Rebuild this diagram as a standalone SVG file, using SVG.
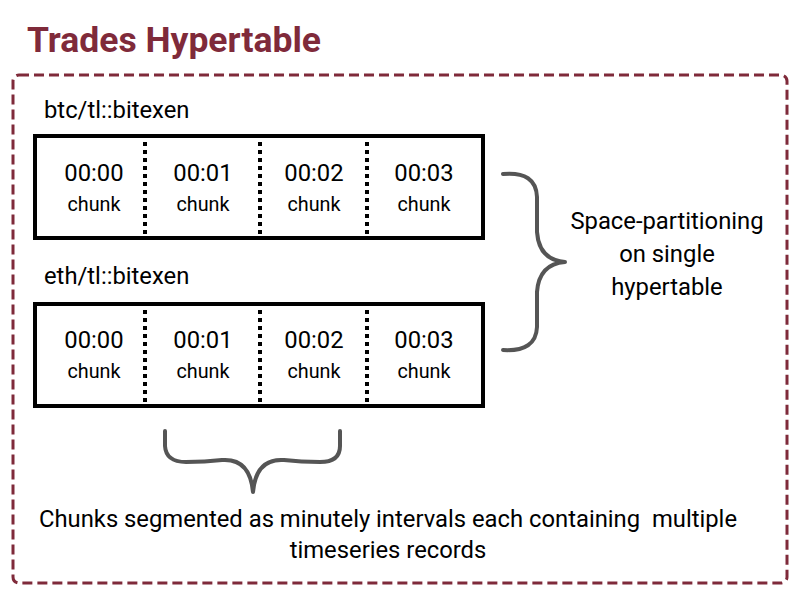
<svg xmlns="http://www.w3.org/2000/svg" width="800" height="600" viewBox="0 0 800 600">
<style>
text{font-family:Roboto,"Liberation Sans",sans-serif;fill:#000}
.title{font-size:35.5px;font-weight:bold;fill:#7f2a3a}
.lbl{font-size:23.8px}
.t{font-size:23.8px;text-anchor:middle}
.c{font-size:19.8px;text-anchor:middle}
.note{font-size:23.8px;text-anchor:middle}
.box{fill:#fff;stroke:#000;stroke-width:4}
.div{stroke:#000;stroke-width:4;stroke-dasharray:4 4}
.brace{fill:none;stroke:#555;stroke-width:4;stroke-linecap:round;stroke-linejoin:round}
</style>
<rect width="800" height="600" fill="#fff"/>
<text class="title" x="27" y="52">Trades Hypertable</text>
<rect id="frame" x="13" y="75" width="774" height="508" rx="6" fill="none" stroke="#7f2a3a" stroke-width="3" stroke-dasharray="10 5"/>
<g id="btc">
<text class="lbl" x="44" y="118">btc/tl::bitexen</text>
<rect class="box" x="35" y="136" width="448" height="102"/>
<line class="div" x1="145" y1="142" x2="145" y2="236"/>
<line class="div" x1="260" y1="142" x2="260" y2="236"/>
<line class="div" x1="367" y1="142" x2="367" y2="236"/>
<text class="t" x="94" y="181">00:00</text><text class="c" x="94" y="211">chunk</text>
<text class="t" x="203" y="181">00:01</text><text class="c" x="203" y="211">chunk</text>
<text class="t" x="314" y="181">00:02</text><text class="c" x="314" y="211">chunk</text>
<text class="t" x="424" y="181">00:03</text><text class="c" x="424" y="211">chunk</text>
</g>
<g id="eth">
<text class="lbl" x="44" y="284">eth/tl::bitexen</text>
<rect class="box" x="35" y="304" width="448" height="102"/>
<line class="div" x1="145" y1="310" x2="145" y2="404"/>
<line class="div" x1="260" y1="310" x2="260" y2="404"/>
<line class="div" x1="367" y1="310" x2="367" y2="404"/>
<text class="t" x="94" y="348">00:00</text><text class="c" x="94" y="378">chunk</text>
<text class="t" x="203" y="348">00:01</text><text class="c" x="203" y="378">chunk</text>
<text class="t" x="314" y="348">00:02</text><text class="c" x="314" y="378">chunk</text>
<text class="t" x="424" y="348">00:03</text><text class="c" x="424" y="378">chunk</text>
</g>
<g id="connectors">
<path class="brace" d="M503,174 Q536,171 537,197 L537,232 Q539,260 565,262 Q539,264 537,292 L537,327 Q536,352 503,350"/>
<path class="brace" d="M165,431 L165,446 Q166,462 186,462 Q205,462 222,460 Q250,458 253,492 Q256,458 284,460 Q301,462 320,462 Q340,462 340,446 L340,431"/>
</g>
<g id="space-note">
<text class="note" x="667" y="229">Space-partitioning</text>
<text class="note" x="667" y="262">on single</text>
<text class="note" x="667" y="295">hypertable</text>
</g>
<g id="chunk-note">
<text class="note" x="388" y="527" xml:space="preserve">Chunks segmented as minutely intervals each containing  multiple</text>
<text class="note" x="388" y="558">timeseries records</text>
</g>
</svg>
